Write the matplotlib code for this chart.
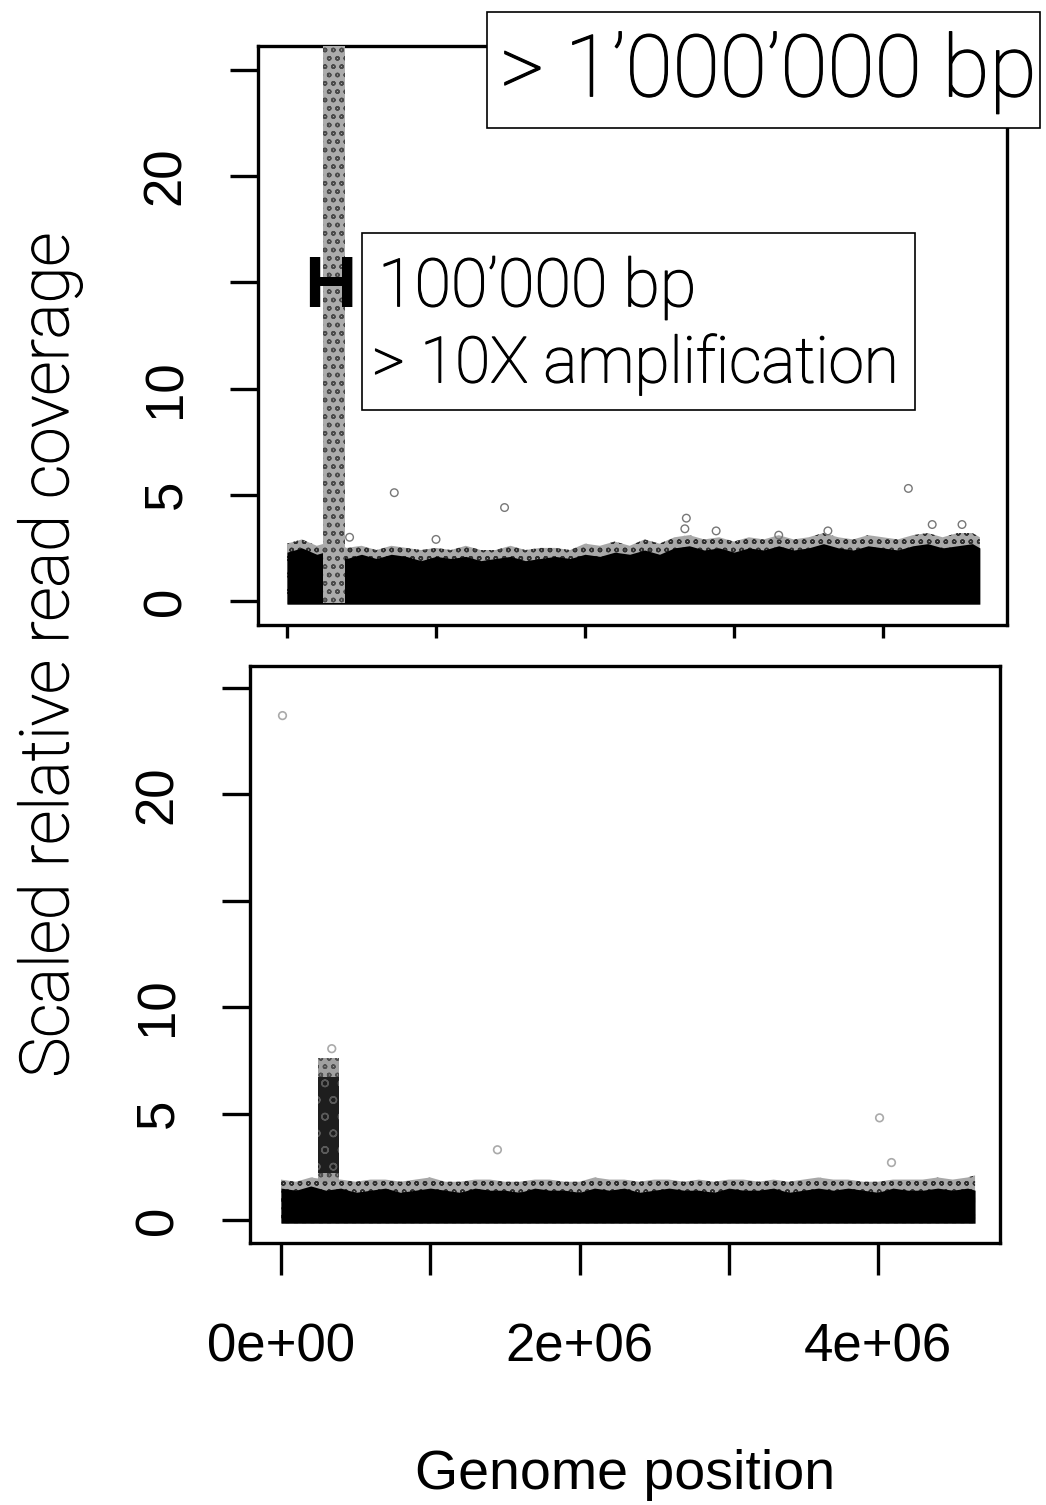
import matplotlib
matplotlib.use("Agg")
import matplotlib.pyplot as plt
import matplotlib.patheffects as pe
from matplotlib.patches import Rectangle
import numpy as np

# genome positions (Mb) where the envelope of the dense coverage band was read
band_mb = [0.0, 0.1, 0.2, 0.3, 0.4, 0.5, 0.6, 0.7, 0.8, 0.9, 1.0, 1.1, 1.2, 1.3,
           1.4, 1.5, 1.6, 1.7, 1.8, 1.9, 2.0, 2.1, 2.2, 2.3, 2.4, 2.5, 2.6, 2.7,
           2.8, 2.9, 3.0, 3.1, 3.2, 3.3, 3.4, 3.5, 3.6, 3.7, 3.8, 3.9, 4.0, 4.1,
           4.2, 4.3, 4.4, 4.5, 4.6, 4.65]
top_core = [2.3, 2.5, 2.2, 2.4, 2.0, 2.2, 2.0, 2.2, 2.1, 1.9, 2.1, 2.0, 2.1, 1.9,
            2.0, 2.1, 1.9, 2.0, 2.1, 2.0, 2.2, 2.1, 2.3, 2.2, 2.4, 2.2, 2.5, 2.6,
            2.4, 2.5, 2.3, 2.5, 2.4, 2.6, 2.4, 2.5, 2.7, 2.5, 2.4, 2.6, 2.5, 2.4,
            2.6, 2.7, 2.5, 2.6, 2.7, 2.5]
top_fringe = [2.7, 2.9, 2.6, 2.8, 2.5, 2.6, 2.4, 2.6, 2.5, 2.4, 2.5, 2.4, 2.6, 2.4,
              2.4, 2.6, 2.4, 2.5, 2.5, 2.4, 2.7, 2.6, 2.8, 2.6, 2.9, 2.7, 3.0, 3.1,
              2.9, 3.0, 2.8, 3.0, 2.9, 3.1, 2.9, 3.0, 3.2, 3.0, 2.9, 3.1, 3.0, 2.9,
              3.1, 3.2, 3.0, 3.2, 3.2, 3.0]
bot_core = [1.5, 1.4, 1.6, 1.4, 1.5, 1.3, 1.4, 1.5, 1.3, 1.4, 1.5, 1.4, 1.3, 1.5,
            1.4, 1.4, 1.3, 1.5, 1.4, 1.4, 1.3, 1.5, 1.4, 1.5, 1.3, 1.4, 1.5, 1.4,
            1.4, 1.3, 1.5, 1.4, 1.4, 1.5, 1.3, 1.4, 1.5, 1.4, 1.5, 1.4, 1.3, 1.5,
            1.4, 1.4, 1.5, 1.4, 1.5, 1.4]
bot_fringe = [1.9, 1.8, 2.0, 1.9, 1.9, 1.8, 1.9, 1.9, 1.8, 1.9, 2.0, 1.8, 1.8, 1.9,
              1.9, 1.8, 1.8, 1.9, 1.9, 1.8, 1.8, 2.0, 1.9, 1.9, 1.8, 1.9, 1.9, 1.8,
              1.9, 1.8, 1.9, 1.9, 1.8, 1.9, 1.8, 1.9, 2.0, 1.9, 1.9, 1.8, 1.8, 1.9,
              1.9, 1.9, 2.0, 1.9, 2.0, 2.1]
band_low = -0.15

# amplified region (Mb) and the extent of its scatter
top_spike_mb = [0.24, 0.39]
top_spike_y = [-0.1, 27.0]
bot_spike_mb = [0.25, 0.39]
bot_spike_y = [1.8, 7.6]
bot_spike_core_y = [2.2, 6.7]

# isolated points
top_out_x = [0.72, 1.46, 2.68, 4.17, 0.42, 3.63, 4.33, 4.53, 2.88, 2.67, 1.0, 3.3]
top_out_y = [5.1, 4.4, 3.9, 5.3, 3.0, 3.3, 3.6, 3.6, 3.3, 3.4, 2.9, 3.1]
bot_out_x = [0.01, 4.01, 4.09, 1.45, 0.34]
bot_out_y = [23.7, 4.8, 2.7, 3.3, 8.05]

plt.rcParams['font.family'] = ['Liberation Sans', 'DejaVu Sans']
light = dict(family=['Roboto', 'DejaVu Sans'], fontweight='light',
             path_effects=[pe.withStroke(linewidth=0.9, foreground='black')])

fig = plt.figure(figsize=(10.46, 15.05), dpi=100)
ax1 = fig.add_axes([258 / 1046, 1 - 625 / 1505, 749 / 1046, 579 / 1505])
ax2 = fig.add_axes([250 / 1046, 1 - 1243 / 1505, 750 / 1046, 577 / 1505])


def draw_band(ax, core, fringe):
    x = np.array(band_mb) * 1e6
    ax.fill_between(x, band_low, fringe, facecolor='#a8a8a8', edgecolor='#303030',
                    hatch='oo', lw=0, zorder=2)
    ax.fill_between(x, band_low, core, color='black', lw=0, zorder=3)


draw_band(ax1, top_core, top_fringe)
draw_band(ax2, bot_core, bot_fringe)

# spikes: grey scatter-like columns
sx = np.array(top_spike_mb) * 1e6
ax1.fill_between(sx, top_spike_y[0], top_spike_y[1], facecolor='#ababab',
                 edgecolor='#4a4a4a', hatch='oo', lw=0, zorder=4)
sx = np.array(bot_spike_mb) * 1e6
ax2.fill_between(sx, bot_spike_y[0], bot_spike_y[1], facecolor='#a0a0a0',
                 edgecolor='#505050', hatch='oo', lw=0, zorder=4)
ax2.fill_between(sx, bot_spike_core_y[0], bot_spike_core_y[1], facecolor='#1e1e1e',
                 edgecolor='#5a5a5a', hatch='o', lw=0, zorder=5)

ax1.scatter(np.array(top_out_x) * 1e6, top_out_y, s=30, facecolors='none',
            edgecolors='#777777', linewidths=1, zorder=5)
ax2.scatter(np.array(bot_out_x) * 1e6, bot_out_y, s=30, facecolors='none',
            edgecolors='#aaaaaa', linewidths=1.2, zorder=5)

ax1.set_xlim(-0.1946e6, 4.832e6)
ax1.set_ylim(-1.13, 26.13)
ax2.set_xlim(-0.2077e6, 4.817e6)
ax2.set_ylim(-1.08, 26.03)

yt = [0, 5, 10, 15, 20, 25]
ylab = ['0', '5', '10', '', '20', '']
for ax in (ax1, ax2):
    for s in ax.spines.values():
        s.set_linewidth(2.4)
    ax.set_yticks(yt)
    ax.set_yticklabels(ylab, rotation=90, va='center', fontsize=38)
    ax.tick_params(axis='y', direction='out', length=20, width=2.4, pad=28)
    ax.set_xticks([0, 1e6, 2e6, 3e6, 4e6])

ax1.set_xticklabels([])
ax1.tick_params(axis='x', direction='out', length=9, width=2.4)
ax2.set_xticklabels(['0e+00', '', '2e+06', '', '4e+06'], fontsize=38)
ax2.tick_params(axis='x', direction='out', length=23, width=2.4, pad=34)

fig.text(625 / 1046, 1 - 1475 / 1505, 'Genome position', ha='center', va='center',
         fontsize=40)
fig.text(50 / 1046, 1 - 655 / 1505, 'Scaled relative read coverage', rotation=90,
         ha='center', va='center', fontsize=48.5, **light)

# annotation boxes
fig.patches.append(Rectangle((487 / 1046, 1 - 128 / 1505), 553 / 1046, 116 / 1505,
                             transform=fig.transFigure, facecolor='white',
                             edgecolor='black', lw=1.2, zorder=10))
fig.text(500 / 1046, 1 - 73 / 1505, '> 1\u2019000\u2019000 bp', ha='left', va='center',
         fontsize=62, zorder=11, **light)
fig.patches.append(Rectangle((362 / 1046, 1 - 410 / 1505), 553 / 1046, 177 / 1505,
                             transform=fig.transFigure, facecolor='white',
                             edgecolor='black', lw=1.2, zorder=10))
fig.text(378 / 1046, 1 - 288 / 1505, '100\u2019000 bp', ha='left', va='center',
         fontsize=48, zorder=11, **light)
fig.text(372 / 1046, 1 - 364 / 1505, '> 10X amplification', ha='left', va='center',
         fontsize=46, zorder=11, **light)
fig.text(330 / 1046, 1 - 288 / 1505, 'H', ha='center', va='center', fontsize=52,
         fontweight='bold', zorder=11)

fig.savefig('out.png', dpi=100)
